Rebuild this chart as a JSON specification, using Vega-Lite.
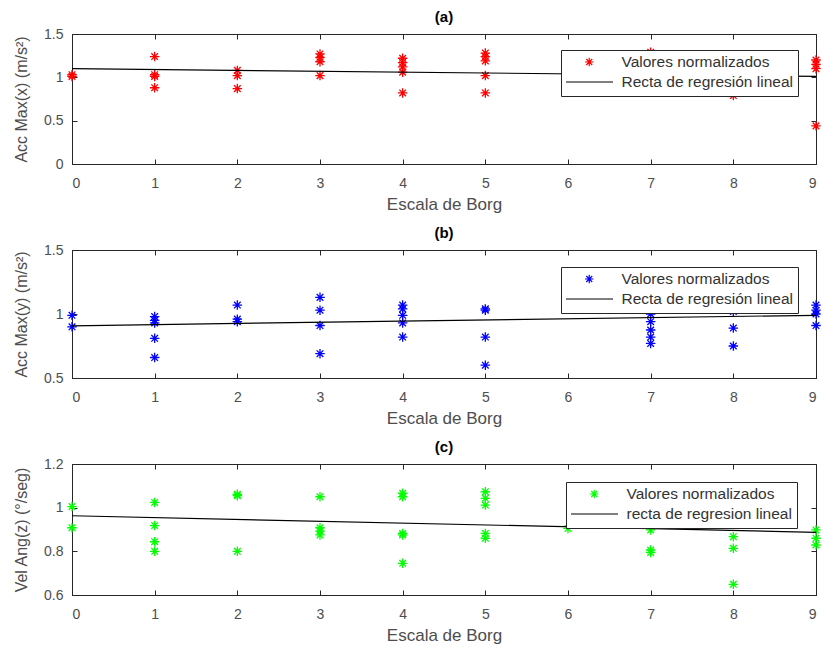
{
  "$schema": "https://vega.github.io/schema/vega-lite/v6.json",
  "padding": {"left": 13, "top": 9, "right": 5, "bottom": 5},
  "background": "white",
  "datasets": {
    "a_pts": [
      {"borg": 0, "valor": 1.03, "serie": "Valores normalizados"},
      {"borg": 0, "valor": 1.01, "serie": "Valores normalizados"},
      {"borg": 1, "valor": 1.24, "serie": "Valores normalizados"},
      {"borg": 1, "valor": 1.03, "serie": "Valores normalizados"},
      {"borg": 1, "valor": 1.01, "serie": "Valores normalizados"},
      {"borg": 1, "valor": 0.88, "serie": "Valores normalizados"},
      {"borg": 2, "valor": 1.08, "serie": "Valores normalizados"},
      {"borg": 2, "valor": 1.02, "serie": "Valores normalizados"},
      {"borg": 2, "valor": 0.87, "serie": "Valores normalizados"},
      {"borg": 3, "valor": 1.27, "serie": "Valores normalizados"},
      {"borg": 3, "valor": 1.23, "serie": "Valores normalizados"},
      {"borg": 3, "valor": 1.18, "serie": "Valores normalizados"},
      {"borg": 3, "valor": 1.02, "serie": "Valores normalizados"},
      {"borg": 4, "valor": 1.22, "serie": "Valores normalizados"},
      {"borg": 4, "valor": 1.17, "serie": "Valores normalizados"},
      {"borg": 4, "valor": 1.12, "serie": "Valores normalizados"},
      {"borg": 4, "valor": 1.06, "serie": "Valores normalizados"},
      {"borg": 4, "valor": 0.82, "serie": "Valores normalizados"},
      {"borg": 5, "valor": 1.28, "serie": "Valores normalizados"},
      {"borg": 5, "valor": 1.24, "serie": "Valores normalizados"},
      {"borg": 5, "valor": 1.19, "serie": "Valores normalizados"},
      {"borg": 5, "valor": 1.02, "serie": "Valores normalizados"},
      {"borg": 5, "valor": 0.82, "serie": "Valores normalizados"},
      {"borg": 7, "valor": 1.29, "serie": "Valores normalizados"},
      {"borg": 7, "valor": 1.15, "serie": "Valores normalizados"},
      {"borg": 7, "valor": 1.05, "serie": "Valores normalizados"},
      {"borg": 7, "valor": 0.84, "serie": "Valores normalizados"},
      {"borg": 8, "valor": 1.05, "serie": "Valores normalizados"},
      {"borg": 8, "valor": 0.99, "serie": "Valores normalizados"},
      {"borg": 8, "valor": 0.79, "serie": "Valores normalizados"},
      {"borg": 9, "valor": 1.2, "serie": "Valores normalizados"},
      {"borg": 9, "valor": 1.15, "serie": "Valores normalizados"},
      {"borg": 9, "valor": 1.1, "serie": "Valores normalizados"},
      {"borg": 9, "valor": 0.44, "serie": "Valores normalizados"}
    ],
    "a_line": [
      {"borg": 0, "valor": 1.1, "serie": "Recta de regresión lineal"},
      {"borg": 9, "valor": 1.01, "serie": "Recta de regresión lineal"}
    ],
    "b_pts": [
      {"borg": 0, "valor": 0.99, "serie": "Valores normalizados"},
      {"borg": 0, "valor": 0.9, "serie": "Valores normalizados"},
      {"borg": 1, "valor": 0.98, "serie": "Valores normalizados"},
      {"borg": 1, "valor": 0.95, "serie": "Valores normalizados"},
      {"borg": 1, "valor": 0.93, "serie": "Valores normalizados"},
      {"borg": 1, "valor": 0.81, "serie": "Valores normalizados"},
      {"borg": 1, "valor": 0.66, "serie": "Valores normalizados"},
      {"borg": 2, "valor": 1.07, "serie": "Valores normalizados"},
      {"borg": 2, "valor": 0.96, "serie": "Valores normalizados"},
      {"borg": 2, "valor": 0.94, "serie": "Valores normalizados"},
      {"borg": 3, "valor": 1.13, "serie": "Valores normalizados"},
      {"borg": 3, "valor": 1.03, "serie": "Valores normalizados"},
      {"borg": 3, "valor": 0.91, "serie": "Valores normalizados"},
      {"borg": 3, "valor": 0.69, "serie": "Valores normalizados"},
      {"borg": 4, "valor": 1.07, "serie": "Valores normalizados"},
      {"borg": 4, "valor": 1.04, "serie": "Valores normalizados"},
      {"borg": 4, "valor": 0.99, "serie": "Valores normalizados"},
      {"borg": 4, "valor": 0.93, "serie": "Valores normalizados"},
      {"borg": 4, "valor": 0.82, "serie": "Valores normalizados"},
      {"borg": 5, "valor": 1.04, "serie": "Valores normalizados"},
      {"borg": 5, "valor": 1.03, "serie": "Valores normalizados"},
      {"borg": 5, "valor": 0.82, "serie": "Valores normalizados"},
      {"borg": 5, "valor": 0.6, "serie": "Valores normalizados"},
      {"borg": 7, "valor": 1.0, "serie": "Valores normalizados"},
      {"borg": 7, "valor": 0.94, "serie": "Valores normalizados"},
      {"borg": 7, "valor": 0.875, "serie": "Valores normalizados"},
      {"borg": 7, "valor": 0.82, "serie": "Valores normalizados"},
      {"borg": 7, "valor": 0.77, "serie": "Valores normalizados"},
      {"borg": 8, "valor": 1.02, "serie": "Valores normalizados"},
      {"borg": 8, "valor": 0.89, "serie": "Valores normalizados"},
      {"borg": 8, "valor": 0.75, "serie": "Valores normalizados"},
      {"borg": 9, "valor": 1.07, "serie": "Valores normalizados"},
      {"borg": 9, "valor": 1.03, "serie": "Valores normalizados"},
      {"borg": 9, "valor": 1.0, "serie": "Valores normalizados"},
      {"borg": 9, "valor": 0.91, "serie": "Valores normalizados"}
    ],
    "b_line": [
      {"borg": 0, "valor": 0.908, "serie": "Recta de regresión lineal"},
      {"borg": 9, "valor": 0.99, "serie": "Recta de regresión lineal"}
    ],
    "c_pts": [
      {"borg": 0, "valor": 1.005, "serie": "Valores normalizados"},
      {"borg": 0, "valor": 0.908, "serie": "Valores normalizados"},
      {"borg": 1, "valor": 1.024, "serie": "Valores normalizados"},
      {"borg": 1, "valor": 0.918, "serie": "Valores normalizados"},
      {"borg": 1, "valor": 0.844, "serie": "Valores normalizados"},
      {"borg": 1, "valor": 0.8, "serie": "Valores normalizados"},
      {"borg": 2, "valor": 1.061, "serie": "Valores normalizados"},
      {"borg": 2, "valor": 1.055, "serie": "Valores normalizados"},
      {"borg": 2, "valor": 0.8, "serie": "Valores normalizados"},
      {"borg": 3, "valor": 1.05, "serie": "Valores normalizados"},
      {"borg": 3, "valor": 0.908, "serie": "Valores normalizados"},
      {"borg": 3, "valor": 0.893, "serie": "Valores normalizados"},
      {"borg": 3, "valor": 0.875, "serie": "Valores normalizados"},
      {"borg": 4, "valor": 1.066, "serie": "Valores normalizados"},
      {"borg": 4, "valor": 1.05, "serie": "Valores normalizados"},
      {"borg": 4, "valor": 0.882, "serie": "Valores normalizados"},
      {"borg": 4, "valor": 0.875, "serie": "Valores normalizados"},
      {"borg": 4, "valor": 0.745, "serie": "Valores normalizados"},
      {"borg": 5, "valor": 1.073, "serie": "Valores normalizados"},
      {"borg": 5, "valor": 1.043, "serie": "Valores normalizados"},
      {"borg": 5, "valor": 1.012, "serie": "Valores normalizados"},
      {"borg": 5, "valor": 0.882, "serie": "Valores normalizados"},
      {"borg": 5, "valor": 0.86, "serie": "Valores normalizados"},
      {"borg": 6, "valor": 0.905, "serie": "Valores normalizados"},
      {"borg": 7, "valor": 0.898, "serie": "Valores normalizados"},
      {"borg": 7, "valor": 0.806, "serie": "Valores normalizados"},
      {"borg": 7, "valor": 0.795, "serie": "Valores normalizados"},
      {"borg": 8, "valor": 0.867, "serie": "Valores normalizados"},
      {"borg": 8, "valor": 0.814, "serie": "Valores normalizados"},
      {"borg": 8, "valor": 0.649, "serie": "Valores normalizados"},
      {"borg": 9, "valor": 0.898, "serie": "Valores normalizados"},
      {"borg": 9, "valor": 0.86, "serie": "Valores normalizados"},
      {"borg": 9, "valor": 0.829, "serie": "Valores normalizados"}
    ],
    "c_line": [
      {"borg": 0, "valor": 0.963, "serie": "recta de regresion lineal"},
      {"borg": 9, "valor": 0.887, "serie": "recta de regresion lineal"}
    ]
  },
  "vconcat": [
    {
      "width": 744,
      "height": 130,
      "title": {"text": "(a)"},
      "layer": [
        {
          "data": {"name": "a_pts"},
          "mark": {"type": "point", "filled": false, "size": 90, "strokeWidth": 1.3, "opacity": 1},
          "encoding": {
            "x": {"field": "borg", "type": "quantitative", "scale": {"domain": [0, 9], "nice": false}, "axis": {"values": [0,1,2,3,4,5,6,7,8,9], "title": "Escala de Borg"}},
            "y": {"field": "valor", "type": "quantitative", "scale": {"domain": [0, 1.5], "nice": false, "zero": false}, "axis": {"values": [0, 0.5, 1, 1.5], "format": "~g", "title": "Acc Max(x) (m/s²)"}},
            "color": {"field": "serie", "type": "nominal", "scale": {"domain": ["Valores normalizados", "Recta de regresión lineal"], "range": ["#ff0000", "#000000"]},
              "legend": {"orient": "none", "legendX": 489, "legendY": 16}},
            "shape": {"field": "serie", "type": "nominal", "scale": {"domain": ["Valores normalizados", "Recta de regresión lineal"], "range": ["M-1,0L1,0M0,-1L0,1M-0.7,-0.7L0.7,0.7M-0.7,0.7L0.7,-0.7", "M-5.6,0L5.6,0"]}}
          }
        },
        {
          "data": {"name": "a_line"},
          "mark": {"type": "line", "strokeWidth": 1.2},
          "encoding": {
            "x": {"field": "borg", "type": "quantitative", "axis": {"orient": "top", "values": [0,1,2,3,4,5,6,7,8,9], "labels": false, "title": null, "domain": false}},
            "y": {"field": "valor", "type": "quantitative", "axis": {"orient": "right", "values": [0, 0.5, 1, 1.5], "labels": false, "title": null, "domain": false}},
            "color": {"field": "serie", "type": "nominal"}
          }
        }
      ],
      "resolve": {"axis": {"x": "independent", "y": "independent"}}
    },
    {
      "width": 744,
      "height": 128,
      "title": {"text": "(b)"},
      "layer": [
        {
          "data": {"name": "b_pts"},
          "mark": {"type": "point", "filled": false, "size": 90, "strokeWidth": 1.3, "opacity": 1},
          "encoding": {
            "x": {"field": "borg", "type": "quantitative", "scale": {"domain": [0, 9], "nice": false}, "axis": {"values": [0,1,2,3,4,5,6,7,8,9], "title": "Escala de Borg"}},
            "y": {"field": "valor", "type": "quantitative", "scale": {"domain": [0.5, 1.5], "nice": false, "zero": false}, "axis": {"values": [0.5, 1, 1.5], "format": "~g", "title": "Acc Max(y) (m/s²)"}},
            "color": {"field": "serie", "type": "nominal", "scale": {"domain": ["Valores normalizados", "Recta de regresión lineal"], "range": ["#0000ff", "#000000"]},
              "legend": {"orient": "none", "legendX": 489, "legendY": 17}},
            "shape": {"field": "serie", "type": "nominal", "scale": {"domain": ["Valores normalizados", "Recta de regresión lineal"], "range": ["M-1,0L1,0M0,-1L0,1M-0.7,-0.7L0.7,0.7M-0.7,0.7L0.7,-0.7", "M-5.6,0L5.6,0"]}}
          }
        },
        {
          "data": {"name": "b_line"},
          "mark": {"type": "line", "strokeWidth": 1.2},
          "encoding": {
            "x": {"field": "borg", "type": "quantitative", "axis": {"orient": "top", "values": [0,1,2,3,4,5,6,7,8,9], "labels": false, "title": null, "domain": false}},
            "y": {"field": "valor", "type": "quantitative", "axis": {"orient": "right", "values": [0.5, 1, 1.5], "labels": false, "title": null, "domain": false}},
            "color": {"field": "serie", "type": "nominal"}
          }
        }
      ],
      "resolve": {"axis": {"x": "independent", "y": "independent"}}
    },
    {
      "width": 744,
      "height": 131,
      "title": {"text": "(c)"},
      "layer": [
        {
          "data": {"name": "c_pts"},
          "mark": {"type": "point", "filled": false, "size": 90, "strokeWidth": 1.3, "opacity": 1},
          "encoding": {
            "x": {"field": "borg", "type": "quantitative", "scale": {"domain": [0, 9], "nice": false}, "axis": {"values": [0,1,2,3,4,5,6,7,8,9], "title": "Escala de Borg"}},
            "y": {"field": "valor", "type": "quantitative", "scale": {"domain": [0.6, 1.2], "nice": false, "zero": false}, "axis": {"values": [0.6, 0.8, 1, 1.2], "format": "~g", "title": "Vel Ang(z) (°/seg)"}},
            "color": {"field": "serie", "type": "nominal", "scale": {"domain": ["Valores normalizados", "recta de regresion lineal"], "range": ["#00ff00", "#000000"]},
              "legend": {"orient": "none", "legendX": 494, "legendY": 18}},
            "shape": {"field": "serie", "type": "nominal", "scale": {"domain": ["Valores normalizados", "recta de regresion lineal"], "range": ["M-1,0L1,0M0,-1L0,1M-0.7,-0.7L0.7,0.7M-0.7,0.7L0.7,-0.7", "M-5.6,0L5.6,0"]}}
          }
        },
        {
          "data": {"name": "c_line"},
          "mark": {"type": "line", "strokeWidth": 1.2},
          "encoding": {
            "x": {"field": "borg", "type": "quantitative", "axis": {"orient": "top", "values": [0,1,2,3,4,5,6,7,8,9], "labels": false, "title": null, "domain": false}},
            "y": {"field": "valor", "type": "quantitative", "axis": {"orient": "right", "values": [0.6, 0.8, 1, 1.2], "labels": false, "title": null, "domain": false}},
            "color": {"field": "serie", "type": "nominal"}
          }
        }
      ],
      "resolve": {"axis": {"x": "independent", "y": "independent"}}
    }
  ],
  "spacing": 86,
  "bounds": "flush",
  "resolve": {"scale": {"color": "independent", "shape": "independent"}, "legend": {"color": "independent", "shape": "independent"}},
  "config": {
    "view": {"stroke": "#262626", "strokeWidth": 1},
    "axis": {
      "grid": false,
      "domainColor": "#262626",
      "tickColor": "#262626",
      "tickSize": -5,
      "labelFont": "Liberation Sans",
      "labelFontSize": 14,
      "labelColor": "#4d4d4d",
      "titleFont": "Liberation Sans",
      "titleFontSize": 16,
      "titleFontWeight": "normal",
      "titleColor": "#4d4d4d"
    },
    "axisX": {"titleFontSize": 17, "titlePadding": 6, "labelPadding": 17},
    "axisY": {"titlePadding": 14, "labelPadding": 14},
    "title": {"font": "Liberation Sans", "fontSize": 15, "fontWeight": "bold", "color": "#000000", "offset": 2},
    "legend": {
      "title": null,
      "strokeColor": "#262626",
      "fillColor": "white",
      "padding": 5,
      "symbolSize": 72,
      "symbolStrokeWidth": 1.2,
      "symbolOffset": 15.5,
      "clipHeight": 14,
      "rowPadding": 4,
      "labelFont": "Liberation Sans",
      "labelFontSize": 15.5,
      "labelColor": "#333333",
      "labelOffset": 24.5,
      "labelLimit": 400,
      "cornerRadius": 0
    }
  }
}
